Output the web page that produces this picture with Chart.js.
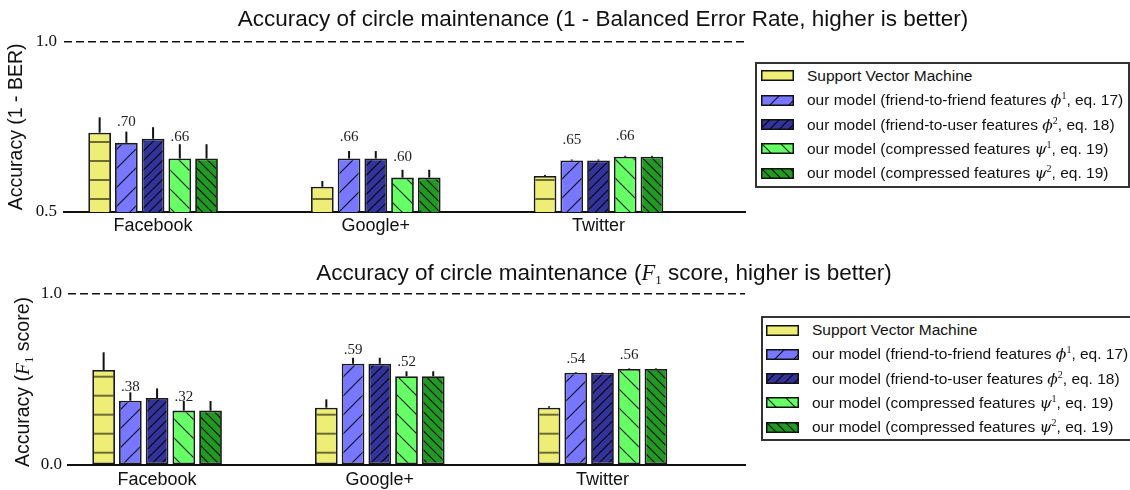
<!DOCTYPE html>
<html>
<head>
<meta charset="utf-8">
<script src="https://cdn.jsdelivr.net/npm/chart.js@4.4.1/dist/chart.umd.min.js"></script>
<style>
  html, body { margin: 0; padding: 0; background: #fff; width: 1130px; height: 490px; overflow: hidden; }
  #wrap { position: relative; width: 1130px; height: 490px; overflow: hidden; font-family: "Liberation Sans", Arial, sans-serif; color: #111; }
  canvas.chart { position: absolute; left: 0; }
  .legend { position: absolute; background: #fff; border: 2px solid #333; box-sizing: border-box; overflow: hidden; }
  .row { position: absolute; left: 0; height: 24px; display: flex; align-items: center; white-space: nowrap; font-size: 15.5px; color: #111; }
  .row canvas { display: block; }
  .m { font-family: "DejaVu Serif", "Liberation Serif", serif; font-style: italic; }
  sup { font-family: "Liberation Serif", serif; font-size: 10px; vertical-align: 6px; line-height: 0; }
  sub { font-family: "Liberation Serif", serif; font-size: 13px; vertical-align: -4px; line-height: 0; }
  #t2 { position: absolute; left: 0; width: 1208px; top: 259px; text-align: center; font-size: 22.5px; line-height: 28px; }
  #t2 .m, #yl2 .m { font-family: "Liberation Serif", serif; }
  #yl2 { position: absolute; left: -88px; top: 370px; width: 220px; height: 24px; line-height: 24px; text-align: center; font-size: 19.5px; transform: rotate(-90deg); }
</style>
</head>
<body>
<div id="wrap">
  <canvas id="c1" class="chart" width="1206" height="245" style="top:0px"></canvas>
  <canvas id="c2" class="chart" width="1208" height="245" style="top:245px"></canvas>
  <div id="t2">Accuracy of circle maintenance (<span class="m">F</span><sub>1</sub> score, higher is better)</div>
  <div id="yl2">Accuracy (<span class="m">F</span><sub>1</sub> score)</div>
  <div id="leg1" class="legend" style="left:755px;top:62px;width:375px;height:126px;"></div>
  <div id="leg2" class="legend" style="left:761px;top:316px;width:400px;height:125px;"></div>
</div>
<script>
// ---------------- data ----------------
const categories = ['Facebook', 'Google+', 'Twitter'];
const seriesNames = [
  'Support Vector Machine',
  'our model (friend-to-friend features ϕ¹, eq. 17)',
  'our model (friend-to-user features ϕ², eq. 18)',
  'our model (compressed features ψ¹, eq. 19)',
  'our model (compressed features ψ², eq. 19)'
];

// 1 - Balanced Error Rate
const berSVM      = [0.733, 0.574, 0.606];
const berSVMErr   = [0.045, 0.017, 0.003];
const berPhi1     = [0.703, 0.657, 0.651];
const berPhi1Err  = [0.033, 0.022, 0.003];
const berPhi2     = [0.715, 0.657, 0.651];
const berPhi2Err  = [0.034, 0.022, 0.003];
const berPsi1     = [0.657, 0.601, 0.662];
const berPsi1Err  = [0.042, 0.023, 0.003];
const berPsi2     = [0.657, 0.601, 0.662];
const berPsi2Err  = [0.042, 0.023, 0.003];
const berTicks    = [0.5, 1.0];

// F1 score
const f1SVM       = [0.556, 0.335, 0.335];
const f1SVMErr    = [0.103, 0.049, 0.008];
const f1Phi1      = [0.376, 0.592, 0.540];
const f1Phi1Err   = [0.049, 0.035, 0.004];
const f1Phi2      = [0.392, 0.592, 0.540];
const f1Phi2Err   = [0.056, 0.035, 0.004];
const f1Psi1      = [0.318, 0.519, 0.561];
const f1Psi1Err   = [0.056, 0.029, 0.004];
const f1Psi2      = [0.318, 0.519, 0.561];
const f1Psi2Err   = [0.056, 0.029, 0.004];
const f1Ticks     = [0.0, 1.0];

const labelledSeries = [1, 3];

// ---------------- styles ----------------
const fills   = ['#EEEE77', '#7777FF', '#333399', '#66FF66', '#229922'];
const hatches = ['-', '/', '//', '\\', '\\\\'];

function makePattern(ctx, color, hatch, yOff) {
  const T = 19;
  const c = document.createElement('canvas');
  c.width = T; c.height = T;
  const g = c.getContext('2d');
  g.fillStyle = color;
  g.fillRect(0, 0, T, T);
  if (hatch === '-') {
    g.fillStyle = 'rgba(0,0,0,0.55)';
    const y0 = ((yOff % T) + T) % T;
    g.fillRect(0, y0 - 1, T, 2);
    if (y0 - 1 < 0) g.fillRect(0, y0 - 1 + T, T, 2);
    if (y0 + 1 > T) g.fillRect(0, y0 - 1 - T, T, 2);
  } else if (hatch !== 'none') {
    const n = hatch.length;
    const step = T / n;
    const dir = hatch[0];
    g.strokeStyle = 'rgba(0,0,0,0.85)';
    g.lineWidth = 1.2;
    for (let o = -T; o <= 2 * T; o += step) {
      g.beginPath();
      if (dir === '/') { g.moveTo(o, T); g.lineTo(o + T, 0); }
      else { g.moveTo(o, 0); g.lineTo(o + T, T); }
      g.stroke();
    }
  }
  return ctx.createPattern(c, 'repeat');
}

// ---------------- plugin: error bars + value labels ----------------
const errorBarsPlugin = {
  id: 'errorBars',
  afterDatasetsDraw(chart, args, opts) {
    const ctx = chart.ctx;
    const yScale = chart.scales.y;
    chart.data.datasets.forEach((ds, di) => {
      const meta = chart.getDatasetMeta(di);
      meta.data.forEach((bar, i) => {
        const v = ds.data[i].y;
        const top = yScale.getPixelForValue(v + ds.errors[i]);
        ctx.save();
        ctx.strokeStyle = '#111';
        ctx.lineWidth = 2;
        ctx.beginPath();
        ctx.moveTo(bar.x, bar.y);
        ctx.lineTo(bar.x, top);
        ctx.stroke();
        if (ds.showValue) {
          ctx.fillStyle = '#222';
          ctx.font = '15px "Liberation Serif", serif';
          ctx.textAlign = 'center';
          ctx.textBaseline = 'middle';
          ctx.fillText(v.toFixed(2).replace(/^0/, ''), bar.x, bar.y - opts.labelOffset);
        }
        ctx.restore();
      });
    });
  }
};

function buildDatasets(ctx, valueArrays, errArrays, yOff) {
  return valueArrays.map((vals, s) => ({
    label: seriesNames[s],
    data: vals.map((v, i) => ({ x: i, y: v })),
    errors: errArrays[s],
    showValue: labelledSeries.includes(s),
    backgroundColor: makePattern(ctx, fills[s], hatches[s], yOff),
    borderColor: '#1a1a1a',
    borderWidth: 1.8,
    borderSkipped: false,
    barPercentage: 0.85,
    categoryPercentage: 0.6
  }));
}

const AXIS_RIGHT = 745;

function makeChart(canvasId, cfg) {
  const canvas = document.getElementById(canvasId);
  const ctx = canvas.getContext('2d');
  const W = canvas.width;
  return new Chart(ctx, {
    type: 'bar',
    data: { datasets: buildDatasets(ctx, cfg.values, cfg.errors, cfg.hatchOffset) },
    options: {
      responsive: false,
      animation: false,
      events: [],
      layout: { padding: { top: cfg.padTop, left: 0, right: 0, bottom: 0 } },
      plugins: {
        legend: { display: false },
        tooltip: { enabled: false },
        title: cfg.title ? {
          display: true,
          text: cfg.title,
          color: '#111',
          font: { family: '"Liberation Sans", Arial, sans-serif', size: 22.5, weight: 'normal' },
          padding: { top: 6, bottom: cfg.titlePadBottom }
        } : { display: false },
        errorBars: { labelOffset: cfg.labelOffset }
      },
      scales: {
        x: {
          type: 'linear',
          min: -0.4,
          max: -0.4 + (AXIS_RIGHT - cfg.yAxisWidth) / 222.7,
          offset: false,
          grid: { display: false, offset: false, drawTicks: false },
          border: { display: true, color: '#111', width: 2 },
          afterBuildTicks: (scale) => { scale.ticks = categories.map((c, i) => ({ value: i })); },
          afterFit: (scale) => { scale.height = cfg.xAxisHeight; },
          ticks: {
            autoSkip: false,
            maxRotation: 0,
            padding: cfg.xTickPad,
            color: '#111',
            font: { family: '"Liberation Sans", Arial, sans-serif', size: 18 },
            callback: (v) => categories[v] !== undefined ? categories[v] : ''
          }
        },
        y: {
          min: cfg.yTicks[0],
          max: cfg.yTicks[cfg.yTicks.length - 1],
          afterBuildTicks: (scale) => { scale.ticks = cfg.yTicks.map(v => ({ value: v })); },
          afterFit: (scale) => { scale.width = cfg.yAxisWidth; },
          grid: {
            drawTicks: false,
            lineWidth: 1.6,
            color: (c) => (c.tick && c.tick.value === cfg.yTicks[cfg.yTicks.length - 1]) ? '#111' : 'rgba(0,0,0,0)'
          },
          border: { display: false, dash: [8, 4] },
          title: cfg.yTitle ? {
            display: true,
            text: cfg.yTitle,
            color: '#111',
            font: { family: '"Liberation Sans", Arial, sans-serif', size: 19.5 },
            padding: { top: 5, bottom: 0 }
          } : { display: false },
          ticks: {
            padding: cfg.yTickPad,
            color: '#111',
            font: { family: '"Liberation Serif", serif', size: 17 },
            callback: (v) => Number(v).toFixed(1)
          }
        },
        // empty spacer on the right so the plot area ends where the legend begins
        spacer: {
          type: 'linear',
          position: 'right',
          display: true,
          min: 0, max: 1,
          grid: { display: false, drawTicks: false },
          border: { display: false },
          ticks: { display: false },
          afterFit: (scale) => { scale.width = W - AXIS_RIGHT; }
        }
      }
    },
    plugins: [errorBarsPlugin]
  });
}

const chart1 = makeChart('c1', {
  values: [berSVM, berPhi1, berPhi2, berPsi1, berPsi2],
  errors: [berSVMErr, berPhi1Err, berPhi2Err, berPsi1Err, berPsi2Err],
  yTicks: berTicks,
  hatchOffset: 9,
  padTop: 0,
  title: 'Accuracy of circle maintenance (1 - Balanced Error Rate, higher is better)',
  titlePadBottom: 8.7,
  yTitle: 'Accuracy (1 - BER)',
  xAxisHeight: 33,
  yAxisWidth: 64,
  xTickPad: 3,
  yTickPad: 7,
  labelOffset: 21
});

const chart2 = makeChart('c2', {
  values: [f1SVM, f1Phi1, f1Phi2, f1Psi1, f1Psi2],
  errors: [f1SVMErr, f1Phi1Err, f1Phi2Err, f1Psi1Err, f1Psi2Err],
  yTicks: f1Ticks,
  hatchOffset: 17.7,
  padTop: 49,
  title: null,
  yTitle: null,
  xAxisHeight: 25,
  yAxisWidth: 68,
  xTickPad: 4,
  yTickPad: 6,
  labelOffset: 14
});

// ---------------- legends ----------------
function legendHTML(name) {
  const supMap = { '¹': '1', '²': '2' };
  return name.replace(/([ϕψ])([¹²])/g, (m, g1, g2) => '<span class="m">' + g1 + '</span><sup>' + supMap[g2] + '</sup>');
}
function buildLegend(id, firstCenter, spacing, swLeft, textLeft) {
  const box = document.getElementById(id);
  seriesNames.forEach((name, s) => {
    const row = document.createElement('div');
    row.className = 'row';
    row.style.top = (firstCenter + s * spacing - 12) + 'px';
    const sw = document.createElement('canvas');
    sw.width = 33; sw.height = 11;
    sw.style.marginLeft = swLeft + 'px';
    sw.style.marginRight = (textLeft - swLeft - 33) + 'px';
    const g = sw.getContext('2d');
    g.fillStyle = makePattern(g, fills[s], hatches[s] === '-' ? 'none' : hatches[s], 0);
    g.fillRect(0, 0, 33, 11);
    g.strokeStyle = '#111';
    g.lineWidth = 1.5;
    g.strokeRect(0.75, 0.75, 31.5, 9.5);
    row.appendChild(sw);
    const span = document.createElement('span');
    span.innerHTML = legendHTML(name);
    row.appendChild(span);
    box.appendChild(row);
  });
}
buildLegend('leg1', 11.7, 24.4, 4, 50);
buildLegend('leg2', 12, 24.3, 3, 49);
</script>
</body>
</html>
